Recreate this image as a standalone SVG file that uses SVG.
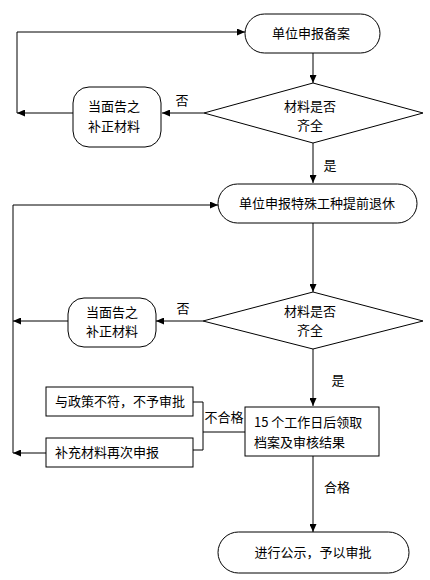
<svg xmlns="http://www.w3.org/2000/svg" width="430" height="580" viewBox="0 0 430 580">
<defs>
<marker id="ah" markerWidth="8" markerHeight="7" refX="8" refY="3.5" orient="auto" markerUnits="userSpaceOnUse">
<path d="M0,0 L8,3.5 L0,7 z" fill="#000"/>
</marker>
<style>
.s{fill:#fff;stroke:#000;stroke-width:1}
.c{fill:none;stroke:#000;stroke-width:1}
.a{marker-end:url(#ah)}
text{font-family:"Noto Sans CJK SC","Noto Sans",sans-serif;font-size:13px;fill:#000}
.m{text-anchor:middle}
</style>
</defs>
<rect width="430" height="580" fill="#fff"/>
<g id="connectors">
<path class="c a" d="M313,53 V83"/>
<path class="c a" d="M204,113 H162"/>
<path class="c a" d="M73,113 H17"/>
<path class="c a" d="M17,113 V32 H245"/>
<path class="c a" d="M313,143 V183"/>
<path class="c a" d="M313,223 V292"/>
<path class="c a" d="M203,321 H156"/>
<path class="c a" d="M68,321 H13"/>
<path class="c a" d="M13,453 V205 H218"/>
<path class="c a" d="M313,349 V406"/>
<path class="c a" d="M46,453 H13"/>
<path class="c" d="M193,402 H203 V450 H193"/>
<path class="c" d="M203,432 H245"/>
<path class="c a" d="M313,456 V532"/>
<text x="182" y="105" class="m">否</text>
<text x="330" y="170" class="m">是</text>
<text x="183" y="313" class="m">否</text>
<text x="338" y="385" class="m">是</text>
<text x="224" y="422" class="m">不合格</text>
<text x="337" y="492" class="m">合格</text>
</g>
<g id="n1">
<rect class="s" x="245" y="14" width="135" height="39" rx="19.5"/>
<text x="311" y="38" class="m">单位申报备案</text>
</g>
<g id="d1">
<polygon class="s" points="313,83 423,113 313,143 204,113"/>
<text x="310" y="111" class="m">材料是否</text>
<text x="310" y="130" class="m">齐全</text>
</g>
<g id="b1">
<rect class="s" x="73" y="87" width="88" height="60" rx="16"/>
<text x="114" y="111" class="m">当面告之</text>
<text x="114" y="131" class="m">补正材料</text>
</g>
<g id="n2">
<rect class="s" x="218" y="184" width="199" height="39" rx="19.5"/>
<text x="317" y="208" class="m">单位申报特殊工种提前退休</text>
</g>
<g id="d2">
<polygon class="s" points="313,292 423,321 313,349 203,321"/>
<text x="310" y="316" class="m">材料是否</text>
<text x="310" y="335" class="m">齐全</text>
</g>
<g id="b2">
<rect class="s" x="68" y="298" width="88" height="49" rx="16"/>
<text x="112" y="317" class="m">当面告之</text>
<text x="112" y="336" class="m">补正材料</text>
</g>
<g id="r1">
<rect class="s" x="46" y="387" width="147" height="29"/>
<text x="55" y="406">与政策不符，不予审批</text>
</g>
<g id="r2">
<rect class="s" x="46" y="438" width="147" height="29"/>
<text x="55" y="457">补充材料再次申报</text>
</g>
<g id="r3">
<rect class="s" x="245" y="407" width="134" height="49"/>
<text x="254" y="427">15 个工作日后领取</text>
<text x="254" y="447">档案及审核结果</text>
</g>
<g id="n3">
<rect class="s" x="218" y="532" width="191" height="41" rx="20.5"/>
<text x="313" y="557" class="m">进行公示，予以审批</text>
</g>
</svg>
